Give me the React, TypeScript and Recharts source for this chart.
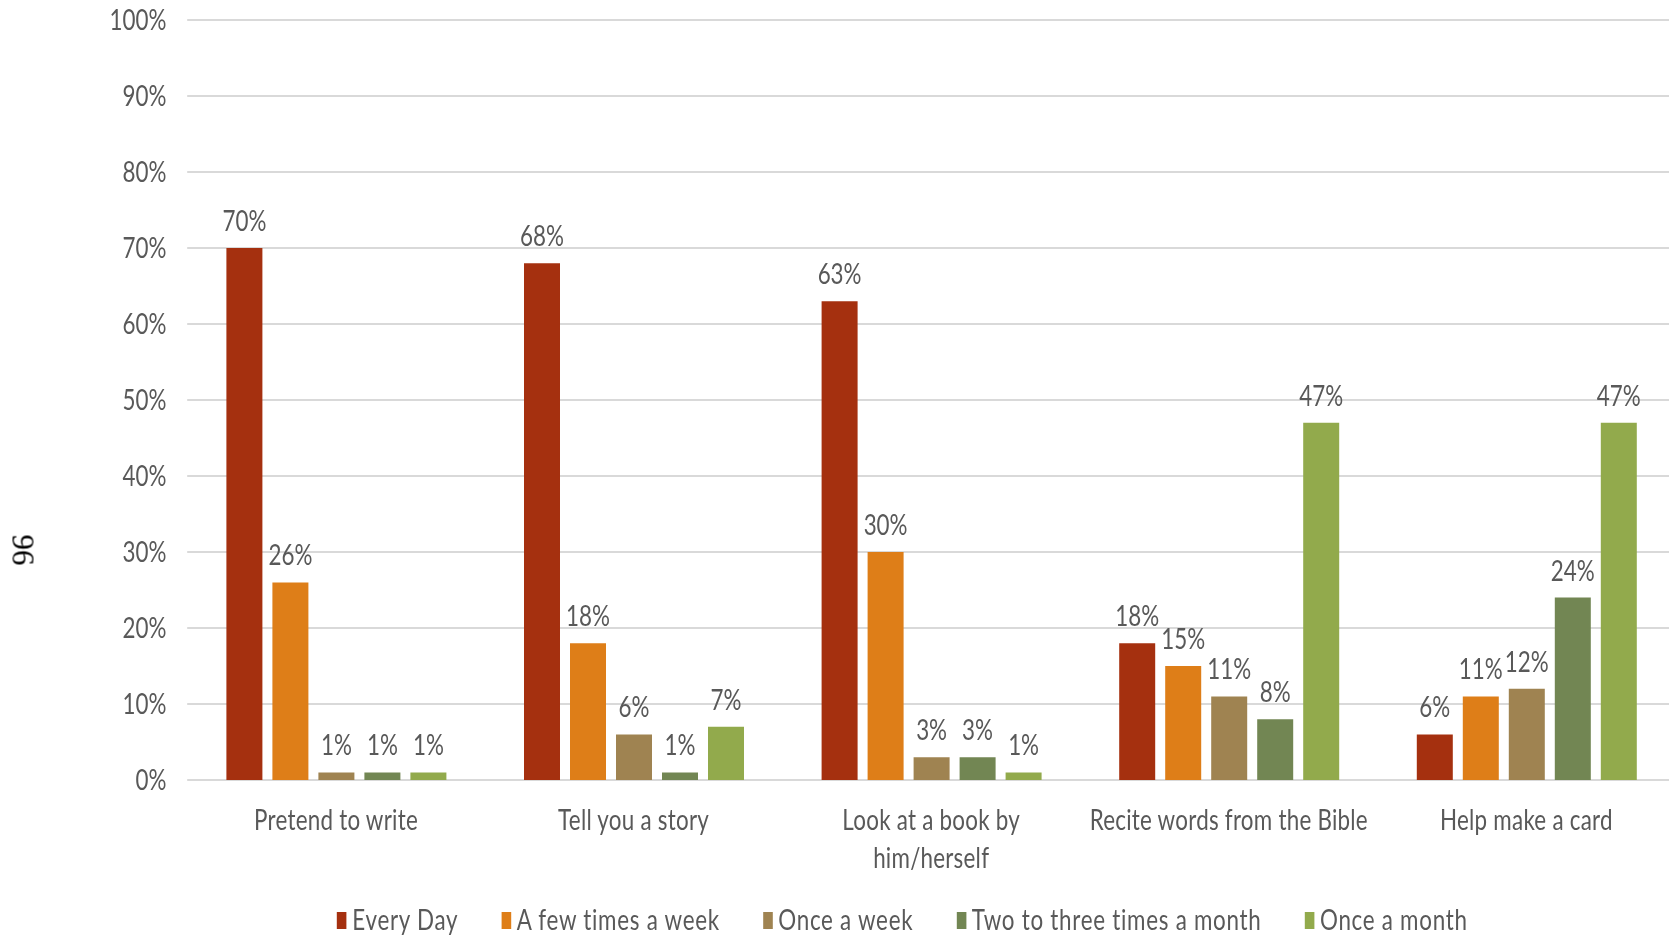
import { Bar, BarChart, CartesianGrid, LabelList, XAxis, YAxis } from 'recharts';

// Activity frequency, share of respondents per activity (%)
const categories = [
  'Pretend to write',
  'Tell you a story',
  'Look at a book by\nhim/herself',
  'Recite words from the Bible',
  'Help make a card',
];
const everyDay = [70, 68, 63, 18, 6];
const fewTimesWeek = [26, 18, 30, 15, 11];
const onceWeek = [1, 6, 3, 11, 12];
const twoThreeMonth = [1, 1, 3, 8, 24];
const onceMonth = [1, 7, 1, 47, 47];
const yTicks = [0, 10, 20, 30, 40, 50, 60, 70, 80, 90, 100];

const SERIES = [
  { key: 'everyDay', name: 'Every Day', values: everyDay, color: '#a5300f' },
  { key: 'fewTimesWeek', name: 'A few times a week', values: fewTimesWeek, color: '#de7e18' },
  { key: 'onceWeek', name: 'Once a week', values: onceWeek, color: '#9f8351' },
  { key: 'twoThreeMonth', name: 'Two to three times a month', values: twoThreeMonth, color: '#728653' },
  { key: 'onceMonth', name: 'Once a month', values: onceMonth, color: '#92aa4c' },
];

const data = categories.map((category, i) => {
  const row: Record<string, string | number> = { category };
  SERIES.forEach((s) => {
    row[s.key] = s.values[i];
  });
  return row;
});

const FONT = 'Lato, "Open Sans", sans-serif';
const TEXT = '#595959';
const GRID = '#d9d9d9';
const FONT_SIZE = 28;

// the whole chart is drawn wide and then narrowed horizontally
const SX = 0.8;
const CHART_W = 2094;
const CHART_H = 939;

function CategoryTick({ x, y, payload }: any) {
  const lines = String(payload.value).split('\n');
  return (
    <text x={x} y={y} textAnchor="middle" fill={TEXT} fontSize={FONT_SIZE} fontFamily={FONT} letterSpacing={0.3}>
      {lines.map((line, i) => (
        <tspan key={i} x={x} dy={i === 0 ? '0.71em' : 38}>
          {line}
        </tspan>
      ))}
    </text>
  );
}

function LegendRow() {
  return (
    <div
      style={{
        position: 'absolute',
        left: 0,
        top: 905,
        width: 2256,
        display: 'flex',
        justifyContent: 'center',
        gap: 54,
        fontFamily: FONT,
        fontSize: FONT_SIZE,
        lineHeight: '28px',
        letterSpacing: 0.9,
        color: TEXT,
        whiteSpace: 'nowrap',
      }}
    >
      {SERIES.map((s) => (
        <span key={s.key} style={{ display: 'inline-flex', alignItems: 'center' }}>
          <span style={{ width: 12, height: 17, background: s.color, marginRight: 7, marginTop: 3 }} />
          {s.name}
        </span>
      ))}
    </div>
  );
}

export default function App() {
  return (
    <div
      style={{
        position: 'fixed',
        left: 0,
        top: 0,
        width: 1669,
        height: 939,
        overflow: 'hidden',
        background: '#fff',
      }}
    >
      <div
        style={{
          position: 'absolute',
          left: 0,
          top: 0,
          width: CHART_W,
          height: CHART_H,
          transform: `scaleX(${SX})`,
          transformOrigin: '0 0',
        }}
      >
        <BarChart
          width={CHART_W}
          height={CHART_H}
          data={data}
          margin={{ top: 20, right: 0, bottom: 0, left: 0 }}
          barSize={45}
          barGap={12.5}
        >
          <CartesianGrid vertical={false} stroke={GRID} strokeWidth={2} />
          <XAxis
            dataKey="category"
            height={159}
            axisLine={false}
            tickLine={false}
            tickMargin={24}
            interval={0}
            tick={<CategoryTick />}
          />
          <YAxis
            width={234}
            domain={[0, 100]}
            ticks={yTicks}
            axisLine={false}
            tickLine={false}
            tickMargin={20}
            tickFormatter={(v) => `${v}%`}
            tick={{ fill: TEXT, fontSize: FONT_SIZE, fontFamily: FONT }}
          />
          {SERIES.map((s) => (
            <Bar key={s.key} dataKey={s.key} name={s.name} fill={s.color} isAnimationActive={false}>
              <LabelList
                dataKey={s.key}
                position="top"
                offset={17}
                formatter={(v: any) => `${v}%`}
                fill={TEXT}
                fontSize={FONT_SIZE}
                fontFamily={FONT}
              />
            </Bar>
          ))}
        </BarChart>
        <LegendRow />
      </div>
      <div
        style={{
          position: 'absolute',
          left: 23,
          top: 550,
          transform: 'translate(-50%, -50%) rotate(90deg)',
          fontFamily: '"Liberation Serif", serif',
          fontSize: 31,
          lineHeight: 1,
          color: '#000',
        }}
      >
        96
      </div>
    </div>
  );
}
